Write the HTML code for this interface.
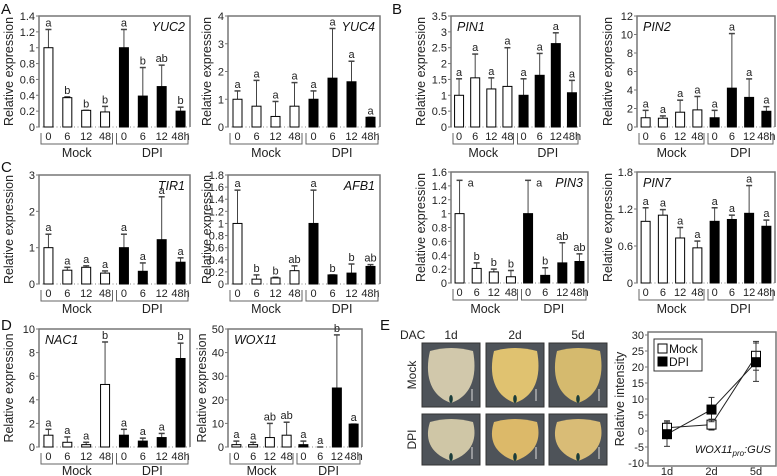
<!DOCTYPE html>
<html><head><meta charset="utf-8">
<style>
html,body{margin:0;padding:0;background:#fff;}
svg{display:block;font-family:"Liberation Sans",Arial,sans-serif;}
</style></head>
<body>
<svg id="fig" width="777" height="476" viewBox="0 0 777 476" xmlns="http://www.w3.org/2000/svg">
  <g font-size="15" fill="#111">
    <text x="1" y="14">A</text>
    <text x="392" y="14">B</text>
    <text x="1" y="172">C</text>
    <text x="1" y="330">D</text>
    <text x="380" y="330">E</text>
  </g>
  <g id="charts"></g>
  <g id="photos"></g>
  <g id="linechart"></g>
</svg>
<script>
// ---- Bar chart data ----
const categories = ['0','6','12','48'];
const dpiCategories = ['0','6','12','48h'];
const groups = ['Mock','DPI'];

const YUC2_mock = [1,0.37,0.21,0.19];
const YUC2_mockTop = [1.23,0.38,0.21,0.26];
const YUC2_dpi = [1,0.39,0.51,0.20];
const YUC2_dpiTop = [1.23,0.75,0.78,0.25];
const YUC2_letters = ['a','b','b','b','a','b','ab','b'];
const YUC2_ticks = ['0','0.2','0.4','0.6','0.8','1','1.2','1.4'];

const YUC4_mock = [1,0.75,0.38,0.75];
const YUC4_mockTop = [1.3,1.68,0.92,1.6];
const YUC4_dpi = [1,1.76,1.63,0.35];
const YUC4_dpiTop = [1.3,3.55,2.37,0.35];
const YUC4_letters = ['a','a','a','a','a','a','a','a'];
const YUC4_ticks = ['0','1','2','3','4'];

const PIN1_mock = [1,1.55,1.2,1.28];
const PIN1_mockTop = [1.52,2.3,1.55,2.5];
const PIN1_dpi = [1,1.63,2.63,1.08];
const PIN1_dpiTop = [1.52,2.32,2.97,1.47];
const PIN1_letters = ['a','a','a','a','a','a','a','a'];
const PIN1_ticks = ['0','0.5','1','1.5','2','2.5','3','3.5'];

const PIN2_mock = [1,0.95,1.6,1.85];
const PIN2_mockTop = [1.8,1.2,2.9,3.3];
const PIN2_dpi = [1,4.2,3.2,1.7];
const PIN2_dpiTop = [1.8,10.1,5.2,2.2];
const PIN2_letters = ['a','a','a','a','a','a','a','a'];
const PIN2_ticks = ['0','2','4','6','8','10','12'];

const TIR1_mock = [1,0.38,0.46,0.3];
const TIR1_mockTop = [1.37,0.46,0.5,0.36];
const TIR1_dpi = [1,0.35,1.22,0.6];
const TIR1_dpiTop = [1.37,0.58,2.4,0.72];
const TIR1_letters = ['a','a','a','a','a','a','a','a'];
const TIR1_ticks = ['0','1','2','3'];

const AFB1_mock = [1,0.08,0.1,0.22];
const AFB1_mockTop = [1.55,0.15,0.11,0.3];
const AFB1_dpi = [1,0.15,0.18,0.29];
const AFB1_dpiTop = [1.55,0.15,0.33,0.32];
const AFB1_letters = ['a','b','b','ab','a','b','b','ab'];
const AFB1_ticks = ['0','0.2','0.4','0.6','0.8','1','1.2','1.4','1.6','1.8'];

const PIN3_mock = [1,0.21,0.16,0.09];
const PIN3_mockTop = [1.48,0.29,0.2,0.18];
const PIN3_dpi = [1,0.11,0.29,0.31];
const PIN3_dpiTop = [1.48,0.22,0.58,0.42];
const PIN3_letters = ['a','b','b','b','a','b','ab','ab'];
const PIN3_ticks = ['0','0.2','0.4','0.6','0.8','1','1.2','1.4','1.6'];

const PIN7_mock = [1,1.1,0.73,0.57];
const PIN7_mockTop = [1.22,1.19,0.9,0.68];
const PIN7_dpi = [1,1.03,1.13,0.92];
const PIN7_dpiTop = [1.22,1.1,1.58,1.02];
const PIN7_letters = ['a','a','a','a','a','a','a','a'];
const PIN7_ticks = ['0','0.6','1.2','1.8'];

const NAC1_mock = [1,0.4,0.2,5.3];
const NAC1_mockTop = [1.5,0.85,0.4,8.9];
const NAC1_dpi = [1,0.5,0.8,7.5];
const NAC1_dpiTop = [1.5,0.75,1.15,8.8];
const NAC1_letters = ['a','a','a','b','a','a','a','b'];
const NAC1_ticks = ['0','2','4','6','8','10'];

const WOX11_mock = [1,1,4,5];
const WOX11_mockTop = [2.5,2,10,10.5];
const WOX11_dpi = [1,0,25,9.7];
const WOX11_dpiTop = [2.5,0,47.5,9.7];
const WOX11_letters = ['a','a','ab','ab','a','a','b','a'];
const WOX11_ticks = ['0','10','20','30','40','50'];

// ---- Line chart data ----
const dayLabels = ['1d','2d','5d'];
const intensityMock = [1,2,23.5];
const intensityMockErr = [2.2,1.7,4.5];
const intensityDpi = [-1,6.7,21.5];
const intensityDpiErr = [3.8,3.8,6];
const intensityTicks = ['-10','-5','0','5','10','15','20','25','30'];

const NS = 'http://www.w3.org/2000/svg';
function mk(tag, attrs, parent, text){
  const e = document.createElementNS(NS, tag);
  for (const k in attrs) e.setAttribute(k, attrs[k]);
  if (text !== undefined) e.textContent = text;
  if (parent) parent.appendChild(e);
  return e;
}

function barChart(c){
  const root = document.getElementById('charts');
  const g = mk('g', {}, root);
  
  
  const ticks = c.ticks.map(Number);
  const max = ticks[ticks.length-1];
  const y = v => c.yBot - (v / max) * (c.yBot - c.yTop);
  const slot = (c.x1 - c.x0) / 8;
  const xc = i => c.x0 + slot * (i + 0.5);
  const bw = 9;
  // box
  const box = mk('path', {d:`M${c.x0},${c.yBot} V${c.yTop} H${c.x1} V${c.yBot}`, fill:'none', stroke:'#777', 'stroke-width':1.5}, g);
  
  
  const base = mk('line', {x1:c.x0, x2:c.x1, y1:c.yBot, y2:c.yBot, stroke:'#888', 'stroke-width':1, 'stroke-dasharray':'1,2.5'}, g);
  
  
  // y ticks
  c.ticks.forEach((t, i) => {
    const yy = y(ticks[i]);
    mk('line', {x1:c.x0-3, x2:c.x0, y1:yy, y2:yy, stroke:'#777', 'stroke-width':1}, g);
    const tl = mk('text', {x:c.x0-4, y:yy+4, 'font-size':11, 'text-anchor':'end', fill:'#222'}, g, t);
    
    
  });
  // y title
  const cy = (c.yTop + c.yBot) / 2;
  const yt = mk('text', {x:c.titleX, y:cy, 'font-size':12.5, 'text-anchor':'middle', fill:'#222', transform:`rotate(-90 ${c.titleX} ${cy})`}, g, c.yTitle || 'Relative expression');
  
  
  // gene label
  const gx = c.geneLeft ? c.x0 + 6 : c.x1 - 5;
  const gl = mk('text', {x:gx, y:c.yTop + 15, 'font-size':12.5, 'font-style':'italic', 'text-anchor': c.geneLeft ? 'start' : 'end', fill:'#111'}, g, c.gene);
  
  
  // bars
  const vals = c.mock.concat(c.dpi);
  const tops = c.mockTop.concat(c.dpiTop);
  vals.forEach((v, i) => {
    const x = xc(i);
    const filled = i >= 4;
    const err = mk('line', {x1:x, x2:x, y1:y(v), y2:y(tops[i]), stroke:'#444', 'stroke-width':1}, g);
    
    
    mk('line', {x1:x-3, x2:x+3, y1:y(tops[i]), y2:y(tops[i]), stroke:'#444', 'stroke-width':1.5}, g);
    const r = mk('rect', {x:x-bw/2, y:y(v), width:bw, height:Math.max(0, c.yBot - y(v)), fill: filled ? '#000' : '#fff', stroke:'#000', 'stroke-width':1}, g);
    
    
    const side = c.letterRightFirst && (i % 4 === 0);
    const lt = mk('text', {x: side ? x + 8 : x, y: side ? y(tops[i]) + 6 : y(tops[i]) - 3, 'font-size':11, 'text-anchor': side ? 'start' : 'middle', fill:'#222'}, g, c.letters[i]);
    
    
    const cl = mk('text', {x:x, y:c.yBot + 13, 'font-size':11, 'text-anchor':'middle', fill:'#222'}, g, i < 4 ? categories[i] : dpiCategories[i-4]);
    
    
  });
  // brackets
  groups.forEach((gname, k) => {
    const a = c.x0 + slot * 4 * k + 2, b = c.x0 + slot * 4 * (k + 1) - 2;
    const br = mk('path', {d:`M${a},${c.yBot+6} V${c.yBot+17} H${b} V${c.yBot+6}`, fill:'none', stroke:'#666', 'stroke-width':1}, g);
    
    
    const gt = mk('text', {x:(a+b)/2, y:c.yBot + c.groupDy, 'font-size':12.5, 'text-anchor':'middle', fill:'#222'}, g, gname);
    
    
  });
}

barChart({gene:'YUC2', x0:39, x1:190, yTop:16, yBot:127, ticks:YUC2_ticks, mock:YUC2_mock, mockTop:YUC2_mockTop, dpi:YUC2_dpi, dpiTop:YUC2_dpiTop, letters:YUC2_letters, titleX:13, groupDy:30});
barChart({gene:'YUC4', x0:228, x1:380, yTop:16, yBot:127, ticks:YUC4_ticks, mock:YUC4_mock, mockTop:YUC4_mockTop, dpi:YUC4_dpi, dpiTop:YUC4_dpiTop, letters:YUC4_letters, titleX:211, groupDy:30});
barChart({gene:'PIN1', x0:451, x1:580, yTop:16, yBot:127, ticks:PIN1_ticks, mock:PIN1_mock, mockTop:PIN1_mockTop, dpi:PIN1_dpi, dpiTop:PIN1_dpiTop, letters:PIN1_letters, titleX:425, groupDy:30, geneLeft:true});
barChart({gene:'PIN2', x0:637, x1:775, yTop:16, yBot:127, ticks:PIN2_ticks, mock:PIN2_mock, mockTop:PIN2_mockTop, dpi:PIN2_dpi, dpiTop:PIN2_dpiTop, letters:PIN2_letters, titleX:612, groupDy:30, geneLeft:true});
barChart({gene:'TIR1', x0:39, x1:190, yTop:175, yBot:284, ticks:TIR1_ticks, mock:TIR1_mock, mockTop:TIR1_mockTop, dpi:TIR1_dpi, dpiTop:TIR1_dpiTop, letters:TIR1_letters, titleX:13, groupDy:29});
barChart({gene:'AFB1', x0:228, x1:380, yTop:175, yBot:284, ticks:AFB1_ticks, mock:AFB1_mock, mockTop:AFB1_mockTop, dpi:AFB1_dpi, dpiTop:AFB1_dpiTop, letters:AFB1_letters, titleX:211, groupDy:29});
barChart({gene:'PIN3', x0:451, x1:588, yTop:172, yBot:283, ticks:PIN3_ticks, mock:PIN3_mock, mockTop:PIN3_mockTop, dpi:PIN3_dpi, dpiTop:PIN3_dpiTop, letters:PIN3_letters, titleX:425, groupDy:30, letterRightFirst:true});
barChart({gene:'PIN7', x0:637, x1:775, yTop:172, yBot:283, ticks:PIN7_ticks, mock:PIN7_mock, mockTop:PIN7_mockTop, dpi:PIN7_dpi, dpiTop:PIN7_dpiTop, letters:PIN7_letters, titleX:612, groupDy:30, geneLeft:true});
barChart({gene:'NAC1', x0:39, x1:190, yTop:329, yBot:447, ticks:NAC1_ticks, mock:NAC1_mock, mockTop:NAC1_mockTop, dpi:NAC1_dpi, dpiTop:NAC1_dpiTop, letters:NAC1_letters, titleX:13, groupDy:28, geneLeft:true});
barChart({gene:'WOX11', x0:228, x1:362, yTop:329, yBot:447, ticks:WOX11_ticks, mock:WOX11_mock, mockTop:WOX11_mockTop, dpi:WOX11_dpi, dpiTop:WOX11_dpiTop, letters:WOX11_letters, titleX:206, groupDy:28, geneLeft:true});

// ---- Photos ----
(function(){
  const pg = document.getElementById('photos');
  const dac = mk('text', {x:400, y:339, 'font-size':12, fill:'#222'}, pg, 'DAC');
  
  
  const cols = [422, 486, 549];
  const rows = [343, 414];
  const w = 58, h = [64, 51];
  const colors = [['#d8cfb0','#e8c872','#dcc070'],['#d6ccab','#e4bf6a','#e0c278']];
  dayLabels.forEach((d, i) => {
    const t = mk('text', {x:cols[i] + w/2, y:339, 'font-size':12, 'text-anchor':'middle', fill:'#222'}, pg, d);
    
    
  });
  groups.forEach((gname, r) => {
    const yy = rows[r] + h[r]/2;
    const t = mk('text', {x:416, y:yy, 'font-size':12, 'text-anchor':'middle', fill:'#222', transform:`rotate(-90 416 ${yy})`}, pg, gname);
    
    
    cols.forEach((cx, c) => {
      const ry = rows[r], hh = h[r];
      const bg = mk('rect', {x:cx, y:ry, width:w, height:hh, fill:'#4e5359', stroke:'#333', 'stroke-width':1}, pg);
      
      
      const lx = cx + w/2;
      mk('path', {d:`M${lx},${ry+hh-4} C${cx+6},${ry+hh-12} ${cx+3},${ry+hh*0.45} ${cx+8},${ry+8} Q${lx},${ry+2} ${cx+w-7},${ry+8} C${cx+w-3},${ry+hh*0.45} ${cx+w-6},${ry+hh-12} ${lx},${ry+hh-4} Z`, fill:colors[r][c], opacity:0.95}, pg);
      mk('ellipse', {cx:lx, cy:ry+hh-8, rx:1.8, ry:4, fill:'#1b3d3a'}, pg);
      mk('line', {x1:cx+w-8, x2:cx+w-8, y1:ry+hh-18, y2:ry+hh-6, stroke:'#ddd', 'stroke-width':1}, pg);
    });
  });
})();

// ---- Line chart ----
(function(){
  const lg = document.getElementById('linechart');
  const x0 = 648, x1 = 776, yT = 335, yB = 463;
  const tv = intensityTicks.map(Number);
  const tmin = tv[0], tmax = tv[tv.length-1];
  const y = v => yB - (v - tmin) / (tmax - tmin) * (yB - yT);
  const xs = i => 667 + i * 44.5;
  const fr = mk('rect', {x:x0, y:yT-3, width:x1-x0, height:yB-yT+6, fill:'none', stroke:'#777', 'stroke-width':1.5}, lg);
  
  
  intensityTicks.forEach((t, i) => {
    const yy = y(tv[i]);
    mk('line', {x1:x0-3, x2:x0, y1:yy, y2:yy, stroke:'#777'}, lg);
    const tl = mk('text', {x:x0-4, y:yy+4, 'font-size':11, 'text-anchor':'end', fill:'#222'}, lg, t);
    
    
  });
  dayLabels.forEach((d, i) => {
    const t = mk('text', {x:xs(i), y:475, 'font-size':11, 'text-anchor':'middle', fill:'#222'}, lg, d);
    
    
  });
  const cy = (yT + yB) / 2;
  const yt = mk('text', {x:624, y:cy, 'font-size':12.5, 'text-anchor':'middle', fill:'#222', transform:`rotate(-90 624 ${cy})`}, lg, 'Relative intensity');
  
  
  function series(vals, errs, filled, name){
    const sg = mk('g', {}, lg);
    
    
    vals.forEach((v, i) => {
      mk('line', {x1:xs(i), x2:xs(i), y1:y(v-errs[i]), y2:y(v+errs[i]), stroke:'#333'}, sg);
      mk('line', {x1:xs(i)-3, x2:xs(i)+3, y1:y(v+errs[i]), y2:y(v+errs[i]), stroke:'#333'}, sg);
      mk('line', {x1:xs(i)-3, x2:xs(i)+3, y1:y(v-errs[i]), y2:y(v-errs[i]), stroke:'#333'}, sg);
    });
    const pts = vals.map((v, i) => xs(i) + ',' + y(v)).join(' ');
    const pl = mk('polyline', {points:pts, fill:'none', stroke:'#222', 'stroke-width':1}, sg);
    
    
    vals.forEach((v, i) => {
      const p = mk('rect', {x:xs(i)-4.5, y:y(v)-4.5, width:9, height:9, fill: filled ? '#000' : '#fff', stroke:'#000'}, sg);
      
      
    });
  }
  series(intensityMock, intensityMockErr, false, 'mock');
  series(intensityDpi, intensityDpiErr, true, 'dpi');
  const leg = mk('g', {}, lg);
  
  
  mk('rect', {x:654, y:339, width:48, height:32, fill:'#fff', stroke:'#333'}, leg);
  mk('rect', {x:658, y:344, width:9, height:9, fill:'#fff', stroke:'#000'}, leg);
  const l1 = mk('text', {x:669, y:353, 'font-size':12, fill:'#111'}, leg, 'Mock');
  
  
  mk('rect', {x:658, y:357, width:9, height:9, fill:'#000', stroke:'#000'}, leg);
  const l2 = mk('text', {x:669, y:366, 'font-size':12, fill:'#111'}, leg, 'DPI');
  
  
  const rep = mk('text', {x:771, y:453, 'font-size':11, 'font-style':'italic', 'text-anchor':'end', fill:'#111'}, lg);
  
  
  mk('tspan', {}, rep, 'WOX11');
  mk('tspan', {'font-size':8, dy:3}, rep, 'pro');
  mk('tspan', {dy:-3}, rep, ':GUS');
})();
</script>
</body></html>
